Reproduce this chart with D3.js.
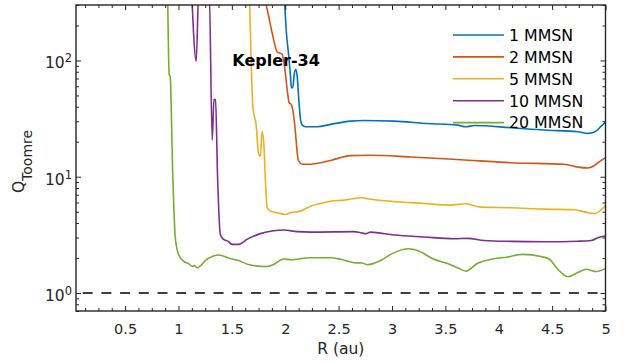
<!DOCTYPE html>
<html>
<head>
<meta charset="utf-8">
<script src="https://cdn.jsdelivr.net/npm/d3@7"></script>
<style>
  html, body { margin: 0; padding: 0; background: #fff; }
  svg { display: block; font-family: "DejaVu Sans", sans-serif; }
</style>
</head>
<body>
<svg id="chart" width="627" height="363"></svg>
<script>
// Toomre Q radial profiles for the Kepler-34 circumbinary disc at several disc masses.

const seriesLabels = ["1 MMSN", "2 MMSN", "5 MMSN", "10 MMSN", "20 MMSN"];
const seriesColors = ["#0072BD", "#D95319", "#EDB120", "#7E2F8E", "#77AC30"];

// [R (au), Q] samples per disc mass; values above the axis top are clipped away
const mmsn1 = [[1.988, 400], [2.011, 173], [2.033, 109], [2.049, 73.3], [2.058, 58.2], [2.070, 58.2],
  [2.086, 78.3], [2.099, 83.7], [2.112, 73.3], [2.127, 46.2], [2.143, 31.1], [2.162, 27.6],
  [2.190, 26.9], [2.300, 26.9], [2.424, 28.2], [2.612, 30.1], [2.737, 30.5], [3.019, 30.1],
  [3.332, 28.7], [3.614, 27.8], [3.692, 26.9], [3.770, 27.6], [4.115, 26.4], [4.427, 25.2],
  [4.741, 24.4], [4.835, 23.6], [4.897, 24.2], [4.960, 27.2], [5.0, 29.5]];

const mmsn2 = [[1.790, 400], [1.845, 240], [1.877, 173], [1.924, 119], [1.971, 113], [1.993, 89.3],
  [2.018, 56.4], [2.037, 43.3], [2.055, 41.9], [2.070, 37.9], [2.096, 23.9], [2.112, 16.1],
  [2.127, 13.6], [2.159, 12.8], [2.237, 12.8], [2.424, 13.8], [2.612, 15.2], [2.800, 15.3],
  [3.176, 14.8], [3.645, 14.0], [4.115, 13.2], [4.615, 12.8], [4.741, 12.1], [4.835, 11.9],
  [4.897, 12.5], [4.944, 13.5], [5.0, 14.6]];

const mmsn5 = [[1.664, 400], [1.699, 37.9], [1.727, 28.2], [1.751, 15.6], [1.767, 15.0], [1.783, 24.5],
  [1.798, 20.1], [1.814, 9.48], [1.830, 5.41], [1.861, 5.06], [1.924, 4.90], [2.002, 4.74],
  [2.049, 4.90], [2.143, 5.06], [2.237, 5.58], [2.331, 5.89], [2.424, 6.16], [2.549, 6.29],
  [2.722, 6.60], [2.769, 6.47], [2.988, 6.16], [3.300, 5.89], [3.551, 5.70], [3.692, 5.86],
  [3.833, 5.48], [4.115, 5.41], [4.427, 5.26], [4.709, 5.20], [4.835, 4.90], [4.897, 4.81],
  [5.0, 5.66]];

const mmsn10 = [[1.123, 400], [1.166, 98.6], [1.190, 400], [1.288, 400], [1.316, 20.7], [1.332, 46.3],
  [1.347, 46.0], [1.366, 10.1], [1.392, 3.19], [1.423, 2.89], [1.464, 2.79], [1.501, 2.62],
  [1.563, 2.62], [1.642, 2.89], [1.767, 3.24], [1.892, 3.43], [1.986, 3.48], [2.112, 3.37],
  [2.237, 3.34], [2.643, 3.37], [2.706, 3.30], [2.753, 3.24], [2.800, 3.34], [3.019, 3.15],
  [3.300, 3.03], [3.582, 2.93], [3.708, 2.95], [3.864, 2.83], [4.115, 2.78], [4.427, 2.76],
  [4.741, 2.79], [4.866, 2.83], [4.929, 2.99], [5.0, 3.09]];

const mmsn20 = [[0.898, 400], [0.913, 75.8], [0.922, 72.8], [0.947, 10.0], [0.969, 3.08], [1.000, 2.15],
  [1.047, 1.88], [1.094, 1.79], [1.126, 1.70], [1.150, 1.72], [1.173, 1.65], [1.267, 1.95],
  [1.376, 2.12], [1.485, 1.98], [1.548, 1.92], [1.673, 1.74], [1.830, 1.69], [1.892, 1.76],
  [1.986, 1.96], [2.049, 1.93], [2.237, 2.01], [2.424, 2.01], [2.518, 1.95], [2.643, 1.82],
  [2.722, 1.81], [2.769, 1.75], [2.894, 1.90], [2.988, 2.15], [3.160, 2.40], [3.238, 2.32],
  [3.394, 1.95], [3.520, 1.79], [3.614, 1.65], [3.692, 1.54], [3.802, 1.80], [3.927, 1.95],
  [4.084, 2.04], [4.224, 2.15], [4.396, 2.06], [4.474, 1.95], [4.553, 1.60], [4.647, 1.38],
  [4.741, 1.50], [4.819, 1.60], [4.913, 1.53], [5.0, 1.62]];

const seriesData = [mmsn1, mmsn2, mmsn5, mmsn10, mmsn20];

const xMajorTicks = [0.5, 1, 1.5, 2, 2.5, 3, 3.5, 4, 4.5, 5];
const xMinorTicks = [0.125, 0.25, 0.375, 0.625, 0.75, 0.875, 1.125, 1.25, 1.375, 1.625, 1.75, 1.875,
  2.125, 2.25, 2.375, 2.625, 2.75, 2.875, 3.125, 3.25, 3.375, 3.625, 3.75, 3.875,
  4.125, 4.25, 4.375, 4.625, 4.75, 4.875];
const yMajorTicks = [1, 10, 100];
const yTickExponents = ["0", "1", "2"];
const yMinorTicks = [0.7, 0.8, 0.9, 2, 3, 4, 5, 6, 7, 8, 9, 20, 30, 40, 50, 60, 70, 80, 90, 200, 300];
const xDomain = [0.04, 5];
const yDomain = [0.7, 300];
const thresholdQ = 1;
const panelTitle = "Kepler-34";
const xTitle = "R (au)";

const axisColor = "#262626";
const plot = { left: 76, right: 605.5, top: 5, bottom: 311 };

const svg = d3.select("#chart");
const x = d3.scaleLinear().domain(xDomain).range([plot.left, plot.right]);
const y = d3.scaleLog().domain(yDomain).range([plot.bottom, plot.top]);

svg.append("defs").append("clipPath").attr("id", "plot-clip")
  .append("rect")
  .attr("x", plot.left).attr("y", plot.top)
  .attr("width", plot.right - plot.left).attr("height", plot.bottom - plot.top);

// Q = 1 stability threshold
svg.append("line")
  .attr("x1", x(xDomain[0])).attr("x2", x(xDomain[1]))
  .attr("y1", y(thresholdQ)).attr("y2", y(thresholdQ))
  .attr("stroke", "#000").attr("stroke-width", 1.3)
  .attr("stroke-dasharray", "10 8.7").attr("stroke-dashoffset", 12);

// profiles
const line = d3.line()
  .x(d => x(d[0]))
  .y(d => y(d[1]))
  .curve(d3.curveMonotoneX);

const curves = svg.append("g").attr("clip-path", "url(#plot-clip)");
seriesData.forEach((s, i) => {
  curves.append("path")
    .datum(s)
    .attr("d", line)
    .attr("fill", "none")
    .attr("stroke", seriesColors[i])
    .attr("stroke-width", 1.6)
    .attr("stroke-linejoin", "round");
});

// axes: ticks point inward on all four sides
function styleAxis(g) {
  g.select(".domain").remove();
  g.attr("color", axisColor);
  g.selectAll(".tick line").attr("stroke-width", 1);
}

const bottomAxis = svg.append("g")
  .attr("transform", `translate(0,${plot.bottom})`)
  .call(d3.axisBottom(x).tickValues(xMajorTicks).tickSize(-5).tickFormat(d => String(d)))
  .call(styleAxis);
bottomAxis.selectAll(".tick text")
  .attr("y", 23).attr("dy", null)
  .attr("font-size", 14.5).attr("font-family", "DejaVu Sans")
  .attr("fill", axisColor);

svg.append("g").attr("transform", `translate(0,${plot.bottom})`)
  .call(d3.axisBottom(x).tickValues(xMinorTicks).tickSize(-3).tickFormat(""))
  .call(styleAxis);
svg.append("g").attr("transform", `translate(0,${plot.top})`)
  .call(d3.axisTop(x).tickValues(xMajorTicks).tickSize(-5).tickFormat(""))
  .call(styleAxis);
svg.append("g").attr("transform", `translate(0,${plot.top})`)
  .call(d3.axisTop(x).tickValues(xMinorTicks).tickSize(-3).tickFormat(""))
  .call(styleAxis);

svg.append("g").attr("transform", `translate(${plot.left},0)`)
  .call(d3.axisLeft(y).tickValues(yMajorTicks).tickSize(-5).tickFormat(""))
  .call(styleAxis);
svg.append("g").attr("transform", `translate(${plot.left},0)`)
  .call(d3.axisLeft(y).tickValues(yMinorTicks).tickSize(-3).tickFormat(""))
  .call(styleAxis);
svg.append("g").attr("transform", `translate(${plot.right},0)`)
  .call(d3.axisRight(y).tickValues(yMajorTicks).tickSize(-5).tickFormat(""))
  .call(styleAxis);
svg.append("g").attr("transform", `translate(${plot.right},0)`)
  .call(d3.axisRight(y).tickValues(yMinorTicks).tickSize(-3).tickFormat(""))
  .call(styleAxis);

// y tick labels as powers of ten
const yLabels = svg.append("g")
  .attr("font-family", "DejaVu Sans").attr("fill", axisColor);
yMajorTicks.forEach((v, i) => {
  const t = yLabels.append("text")
    .attr("x", plot.left - 4)
    .attr("y", y(v) + 8)
    .attr("text-anchor", "end");
  t.append("tspan").attr("font-size", 15.5).text("10");
  t.append("tspan").attr("font-size", 11.5).attr("dy", -6).text(yTickExponents[i]);
});

// frame
svg.append("rect")
  .attr("x", plot.left).attr("y", plot.top)
  .attr("width", plot.right - plot.left).attr("height", plot.bottom - plot.top)
  .attr("fill", "none").attr("stroke", axisColor).attr("stroke-width", 1.4);

// axis titles
svg.append("text")
  .attr("x", (plot.left + plot.right) / 2).attr("y", 354)
  .attr("text-anchor", "middle")
  .attr("font-size", 15.5).attr("fill", axisColor)
  .text(xTitle);

const yTitle = svg.append("text")
  .attr("transform", `translate(24,161.5) rotate(-90)`)
  .attr("text-anchor", "middle")
  .attr("fill", axisColor);
yTitle.append("tspan").attr("font-size", 15.5).text("Q");
yTitle.append("tspan").attr("font-size", 14).attr("dy", 8).text("Toomre");

// panel title
svg.append("text")
  .attr("x", 232.3).attr("y", 66)
  .attr("font-size", 16).attr("font-weight", "bold").attr("fill", "#000")
  .text(panelTitle);

// legend
const legend = svg.append("g");
seriesLabels.forEach((label, i) => {
  const rowY = 35 + i * 21.9;
  legend.append("line")
    .attr("x1", 453).attr("x2", 504)
    .attr("y1", rowY).attr("y2", rowY)
    .attr("stroke", seriesColors[i]).attr("stroke-width", 1.6);
  legend.append("text")
    .attr("x", 509).attr("y", rowY + 5.8)
    .attr("font-size", 15.8).attr("fill", "#000")
    .text(label);
});
</script>
</body>
</html>
